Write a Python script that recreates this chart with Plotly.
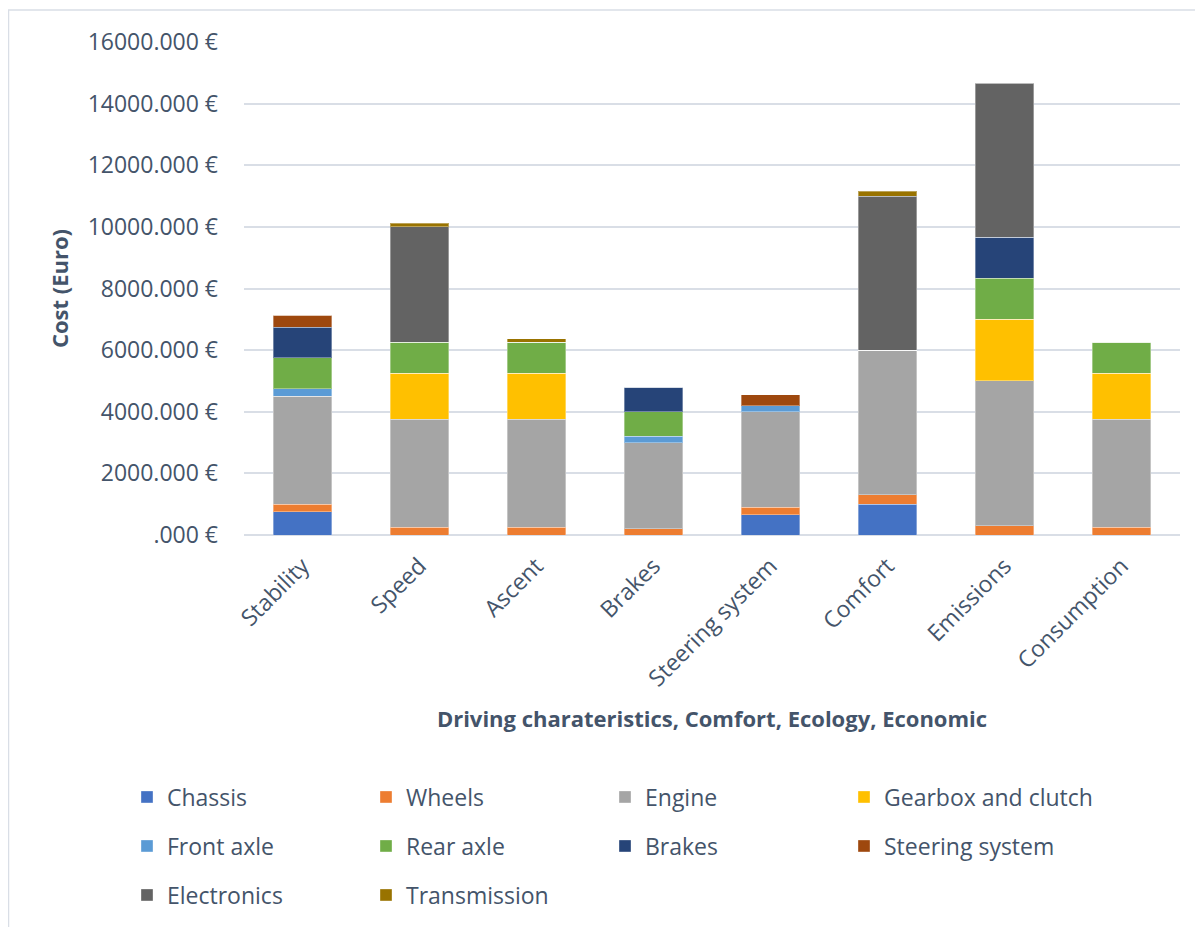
import plotly.graph_objects as go

categories = ["Stability", "Speed", "Ascent", "Brakes", "Steering system",
              "Comfort", "Emissions", "Consumption"]

chassis      = [750, 0, 0, 0, 650, 1000, 0, 0]
wheels       = [250, 250, 250, 200, 250, 300, 300, 250]
engine       = [3500, 3500, 3500, 2800, 3100, 4700, 4700, 3500]
gearbox      = [0, 1500, 1500, 0, 0, 0, 2000, 1500]
front_axle   = [250, 0, 0, 200, 200, 0, 0, 0]
rear_axle    = [1000, 1000, 1000, 800, 0, 0, 1333, 1000]
brakes       = [1000, 0, 0, 800, 0, 0, 1333, 0]
steering     = [375, 0, 0, 0, 350, 0, 0, 0]
electronics  = [0, 3750, 0, 0, 0, 5000, 5000, 0]
transmission = [0, 125, 125, 0, 0, 150, 0, 0]

series_names = ["Chassis", "Wheels", "Engine", "Gearbox and clutch", "Front axle",
                "Rear axle", "Brakes", "Steering system", "Electronics", "Transmission"]
series_values = [chassis, wheels, engine, gearbox, front_axle, rear_axle,
                 brakes, steering, electronics, transmission]
colors = ["#4472C4", "#ED7D31", "#A5A5A5", "#FFC000", "#5B9BD5",
          "#70AD47", "#264478", "#9E480E", "#636363", "#997300"]

tick_values = [0, 2000, 4000, 6000, 8000, 10000, 12000, 14000, 16000]
tick_labels = [".000 €", "2000.000 €", "4000.000 €", "6000.000 €", "8000.000 €",
               "10000.000 €", "12000.000 €", "14000.000 €", "16000.000 €"]

TXT = "#44546A"
FONT = "Open Sans"
GRID = "#D9DEE6"

W, H = 1203, 927
L, R, T, B = 236, 31, 34, 400
pw, ph = W - L - R, H - T - B


def px_x(fx):
    return (fx - L) / pw


def px_y(fy):
    return (T + ph - fy) / ph


legend_keys = ["legend"] * 4 + ["legend2"] * 4 + ["legend3"] * 2

fig = go.Figure()
for i, (name, vals, col, lg) in enumerate(zip(series_names, series_values, colors, legend_keys)):
    fig.add_trace(go.Bar(
        x=categories, y=vals, name=name, legend=lg,
        legendwidth=194 if i % 4 != 3 else 240,
        marker=dict(color=col, line=dict(color="rgba(255,255,255,0.35)", width=1)),
    ))

legend_common = dict(
    orientation="h", traceorder="normal", xanchor="left", yanchor="middle",
    entrywidth=194, entrywidthmode="pixels",
    font=dict(size=23, color=TXT, family=FONT),
    bgcolor="rgba(0,0,0,0)",
)
row_y = [789, 838, 887]
lx = px_x(119)

fig.update_layout(
    width=W, height=H,
    barmode="stack", bargap=0.5,
    plot_bgcolor="white", paper_bgcolor="white",
    margin=dict(l=L, r=R, t=T, b=B, pad=0),
    font=dict(family=FONT, color=TXT),
    xaxis=dict(
        tickangle=-45, tickfont=dict(size=23, color=TXT, family=FONT),
        showgrid=False, showline=False, ticks="", ticklabelstandoff=12,
        title=dict(text="<b>Driving charateristics, Comfort, Ecology, Economic</b>",
                   font=dict(size=22, color=TXT, family=FONT), standoff=19),
    ),
    yaxis=dict(
        range=[0, 16000], tickvals=tick_values, ticktext=tick_labels,
        tickfont=dict(size=23, color=TXT, family=FONT),
        showgrid=True, gridcolor=GRID, gridwidth=1.5,
        zeroline=True, zerolinecolor=GRID, zerolinewidth=1.5,
        ticks="", ticklabelstandoff=25,
        title=dict(text="<b>Cost (Euro)</b>", font=dict(size=22, color=TXT, family=FONT),
                   standoff=12),
    ),
    legend=dict(legend_common, x=lx, y=px_y(row_y[0])),
    legend2=dict(legend_common, x=lx, y=px_y(row_y[1])),
    legend3=dict(legend_common, x=lx, y=px_y(row_y[2])),
    shapes=[dict(type="rect", xref="paper", yref="paper",
                 x0=px_x(0.5), x1=px_x(1220),
                 y0=px_y(950), y1=px_y(2),
                 line=dict(color=GRID, width=1.5), layer="below")],
)

fig.write_html("out.html")
